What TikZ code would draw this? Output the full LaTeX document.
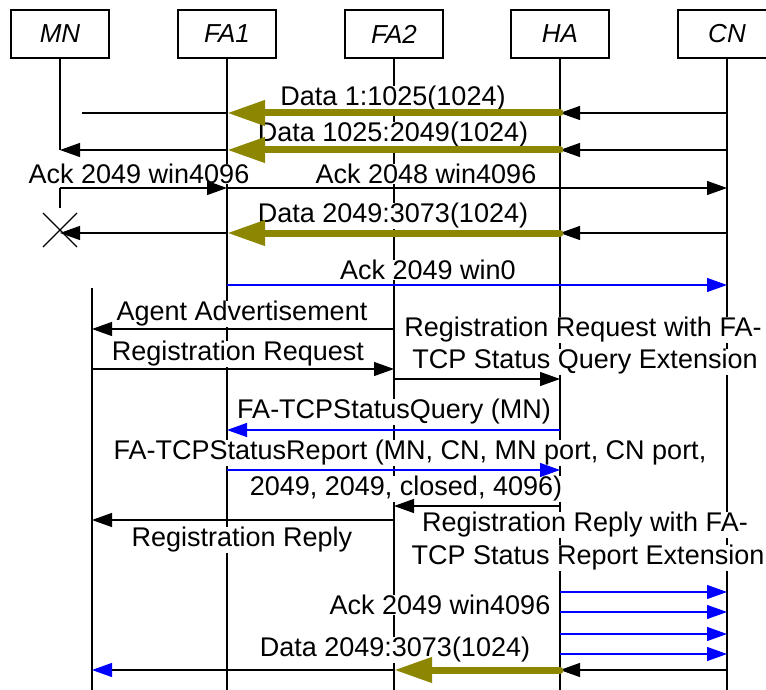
\documentclass[tikz,border=0pt]{standalone}
\usepackage{fontspec}
\setmainfont{Liberation Sans}
\usetikzlibrary{arrows.meta}

\newcommand{\seqfont}{\fontsize{27}{32}\selectfont}

\tikzset{
  actor/.style={draw, line width=1.2pt, minimum width=98pt, minimum height=48pt,
    inner sep=0pt, font=\fontsize{26}{32}\selectfont\itshape},
  life/.style={line width=1.2pt},
  plain/.style={line width=1.2pt},
  msg/.style={line width=1.2pt, -{Triangle[length=20pt,width=14pt]}},
  ctrl/.style={msg, blue},
  fat/.style={draw=olive, line width=7pt, line cap=round,
    -{Triangle[length=38pt,width=24pt]}},
  lbl/.style={fill=white, inner sep=0.5pt, yshift=-2pt, font=\seqfont},
}

\begin{document}
\begin{tikzpicture}[x=1pt, y=-1pt]
        \useasboundingbox (0,0) rectangle (766,690);

        % entities
        \node[actor] (MN)  at (60,34)  {MN};
        \node[actor] (FA1) at (227,34) {FA1};
        \node[actor] (FA2) at (394,34) {FA2};
        \node[actor] (HA)  at (560,34) {HA};
        \node[actor] (CN)  at (727,34) {CN};

        % message rows
        \foreach \name/\y in {d1/113, d2/150, ack1/188, mnend/208, xmark/230,
            d3/233, w0/285, adv/329, rrq/369, rrqx/379, qry/430, rpt/470,
            rrpx/506, rrp/520, b1/592, b2/612, b3/634, b4/654, d4/670, bot/690}
          \coordinate (\name) at (0,\y);
        \coordinate (lost) at (82,113);
        \coordinate (MN2) at (92,288);

        % lifelines
        \draw[life] (MN.south) -- (MN |- d2);
        \draw[life] (MN |- ack1) -- (MN |- mnend);
        \draw[life] (MN |- xmark) +(-17,-17) -- +(17,17)
                    (MN |- xmark) +(-17,17) -- +(17,-17);
        \draw[life] (MN2) -- (MN2 |- bot);
        \foreach \n in {FA1,FA2,HA,CN}
          \draw[life] (\n.south) -- (\n |- bot);

        % labels
        \node[lbl] (l1)  at (393,97)  {Data 1:1025(1024)};
        \node[lbl] (l2)  at (393,133) {Data 1025:2049(1024)};
        \node[lbl] (l3)  at (139,172) {Ack 2049 win4096};
        \node[lbl] (l4)  at (426,172) {Ack 2048 win4096};
        \node[lbl] (l5)  at (393,214) {Data 2049:3073(1024)};
        \node[lbl] (l6)  at (428,268) {Ack 2049 win0};
        \node[lbl] (l7)  at (242,312) {Agent Advertisement};
        \node[lbl] (l8)  at (238,352) {Registration Request};
        \node[lbl] (l9)  at (583,328) {Registration Request with FA-};
        \node[lbl] (l10) at (585,360) {TCP Status Query Extension};
        \node[lbl] (l11) at (394,410) {FA-TCPStatusQuery (MN)};
        \node[lbl] (l12) at (410,451) {FA-TCPStatusReport (MN, CN, MN port, CN port,};
        \node[lbl] (l13) at (406,487) {2049, 2049, closed, 4096)};
        \node[lbl] (l14) at (585,523) {Registration Reply with FA-};
        \node[lbl] (l15) at (588,556) {TCP Status Report Extension};
        \node[lbl] (l16) at (242,538) {Registration Reply};
        \node[lbl] (l17) at (440,603) {Ack 2049 win4096};
        \node[lbl] (l18) at (395,648) {Data 2049:3073(1024)};

        % data before handoff
        \draw[msg] (CN |- d1) -- (HA |- d1);
        \draw[fat] (HA |- d1) -- (FA1 |- d1);
        \draw[plain] (FA1 |- d1) -- (lost);
        \draw[msg] (CN |- d2) -- (HA |- d2);
        \draw[fat] (HA |- d2) -- (FA1 |- d2);
        \draw[msg] (FA1 |- d2) -- (MN |- d2);
        \draw[msg] (MN |- ack1) -- (FA1 |- ack1);
        \draw[msg] (FA1 |- ack1) -- (CN |- ack1);
        \draw[msg] (CN |- d3) -- (HA |- d3);
        \draw[fat] (HA |- d3) -- (FA1 |- d3);
        \draw[msg] (FA1 |- d3) -- (MN |- d3);
        \draw[ctrl] (FA1 |- w0) -- (CN |- w0);

        % registration
        \draw[msg] (FA2 |- adv) -- (MN2 |- adv);
        \draw[msg] (MN2 |- rrq) -- (FA2 |- rrq);
        \draw[msg] (FA2 |- rrqx) -- (HA |- rrqx);
        \draw[ctrl] (HA |- qry) -- (FA1 |- qry);
        \draw[ctrl] (FA1 |- rpt) -- (HA |- rpt);
        \draw[msg] (HA |- rrpx) -- (FA2 |- rrpx);
        \draw[msg] (FA2 |- rrp) -- (MN2 |- rrp);

        % resumed traffic
        \foreach \r in {b1,b2,b3,b4}
          \draw[ctrl] (HA |- \r) -- (CN |- \r);
        \draw[msg] (CN |- d4) -- (HA |- d4);
        \draw[fat] (HA |- d4) -- (FA2 |- d4);
        \draw[plain, -{Triangle[length=20pt,width=14pt,color=blue]}]
            (FA2 |- d4) -- (MN2 |- d4);
    \end{tikzpicture}
\end{document}
